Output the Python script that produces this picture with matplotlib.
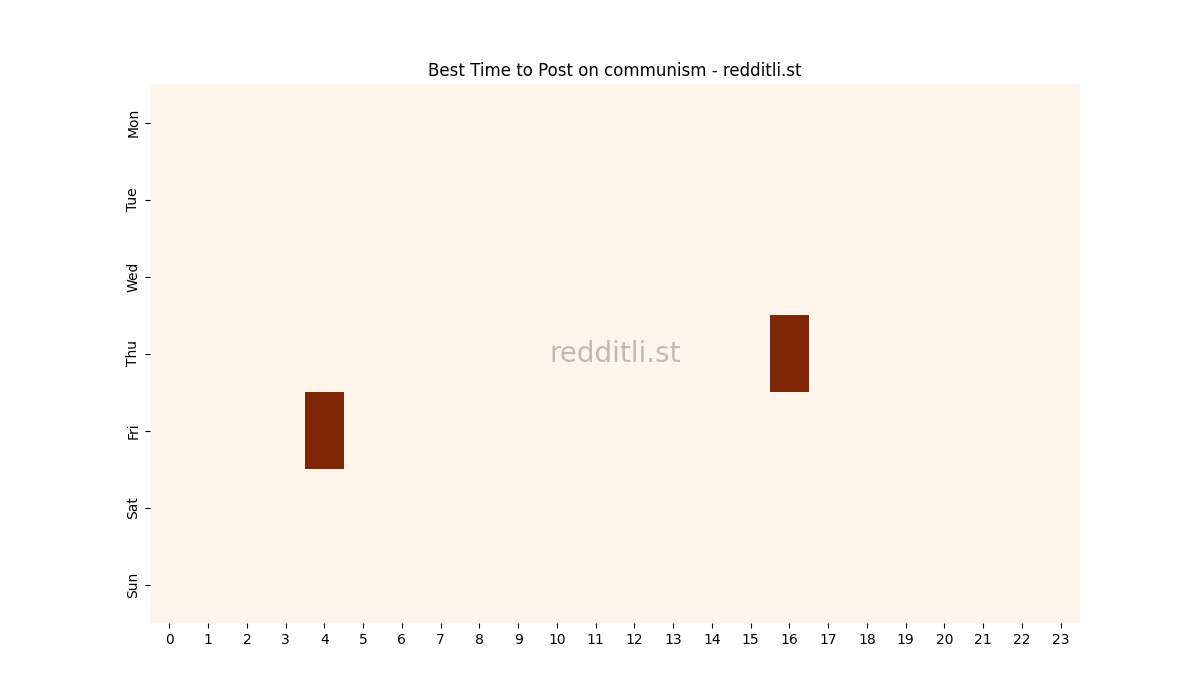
import matplotlib
matplotlib.use("Agg")
import matplotlib.pyplot as plt
import seaborn as sns
import numpy as np

days = ["Mon", "Tue", "Wed", "Thu", "Fri", "Sat", "Sun"]
hours = list(range(24))
# (day, hour, value) cells with posts; everything else zero
hot_cells = [("Thu", 16, 1), ("Fri", 4, 1)]

data = np.zeros((len(days), len(hours)))
for d, h, v in hot_cells:
    data[days.index(d), hours.index(h)] = v

fig, ax = plt.subplots(figsize=(12, 7), dpi=100)
sns.heatmap(data, cmap="Oranges", cbar=False, ax=ax,
            xticklabels=hours, yticklabels=days)
ax.set_title("Best Time to Post on communism - redditli.st")
ax.tick_params(axis="x", rotation=0)
ax.tick_params(axis="y", rotation=90)
ax.text(0.5, 0.5, "redditli.st", transform=ax.transAxes, ha="center",
        va="center", fontsize=20, color="gray", alpha=0.5)
fig.savefig("out.png")
